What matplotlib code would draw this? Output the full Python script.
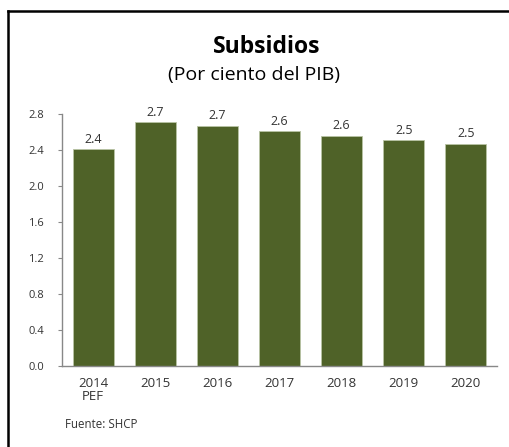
import matplotlib
matplotlib.use('Agg')
import matplotlib.pyplot as plt
import numpy as np

# datos
years = ['2014\nPEF', '2015', '2016', '2017', '2018', '2019', '2020']
values = [2.41, 2.71, 2.67, 2.61, 2.56, 2.51, 2.47]
labels = ['2.4', '2.7', '2.7', '2.6', '2.6', '2.5', '2.5']
yticks = [0.0, 0.4, 0.8, 1.2, 1.6, 2.0, 2.4, 2.8]

plt.rcParams['font.family'] = ['Open Sans', 'DejaVu Sans']
txt = '#333333'

fig = plt.figure(figsize=(5.1, 4.47), dpi=100)
ax = fig.add_axes([62/510, 1-366/447, 435/510, 252/447])

index = np.arange(len(years))
mybars = ax.bar(index, values, width=0.66, color='#4f6228', edgecolor='#b9c4a4', linewidth=0.6)
for bari, lab in zip(mybars, labels):
    ax.text(bari.get_x() + bari.get_width()/2, bari.get_height() + 0.04, lab,
            ha='center', va='bottom', fontsize=9, color=txt)

ax.set_xlim(-0.5, len(years) - 0.5)
ax.set_ylim(0, 2.8)
ax.set_yticks(yticks)
ax.set_yticklabels(['{:.1f}'.format(t) for t in yticks], fontsize=8, color=txt)
ax.set_xticks(index)
ax.set_xticklabels(years, fontsize=9.5, color=txt, linespacing=1.0)
ax.tick_params(axis='x', length=0, pad=8)
ax.tick_params(axis='y', length=3, width=0.8, color='#888888', pad=10)
for s in ['top', 'right']:
    ax.spines[s].set_visible(False)
for s in ['left', 'bottom']:
    ax.spines[s].set_color('#888888')
    ax.spines[s].set_linewidth(1.0)

# titulo
fig.text(267/510, 1-53/447, 'Subsidios', ha='center', va='baseline',
         fontsize=16.5, fontweight='bold', color='black')
fig.text(254/510, 1-80/447, '(Por ciento del PIB)', ha='center', va='baseline',
         fontsize=14, color='black')
fig.text(65/510, 1-428/447, 'Fuente: SHCP', ha='left', va='baseline',
         fontsize=8.3, color=txt)

# marco (solo se ven el borde superior e izquierdo)
fig.add_artist(plt.Line2D([8/510, 1.0], [1-10.5/447, 1-10.5/447], color='black', linewidth=1.8))
fig.add_artist(plt.Line2D([8/510, 8/510], [0, 1-10.5/447], color='black', linewidth=1.8))

plt.savefig('out.png', dpi=100)
